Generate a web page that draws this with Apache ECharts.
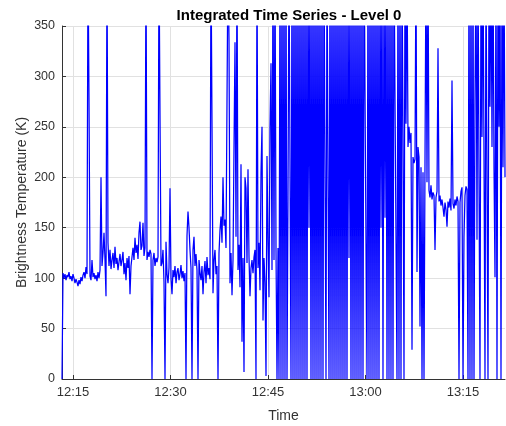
<!DOCTYPE html>
<html><head><meta charset="utf-8">
<script src="https://cdn.jsdelivr.net/npm/echarts@6/dist/echarts.min.js"></script>
<style>html,body{margin:0;padding:0;background:#fff}#c{width:506px;height:426px}</style>
</head><body><div id="c"></div>
<script>
const chartTitle = 'Integrated Time Series - Level 0';
const xName = 'Time';
const yName = 'Brightness Temperature (K)';
const xTickTimes = ['12:15', '12:30', '12:45', '13:00', '13:15'];
const yTicks = [0, 50, 100, 150, 200, 250, 300, 350];
const sampleStart = '12:13:18.6';
const sampleStepSec = 9.231;
const brightness = [
0,105,100,104,98,103,101,106,99,102,
97,104,100,95,99,96,92,98,94,101,
97,103,106,100,111,104,420,277,102,98,
118,101,105,99,103,97,106,100,108,200,
112,125,145,118,82,420,135,112,128,109,
118,125,110,131,114,120,108,116,124,112,
118,126,104,115,98,120,110,122,84,112,
121,130,118,140,125,133,119,145,156,128,
132,155,122,130,420,118,126,121,128,124,
0,118,125,112,120,116,121,420,261,112,
115,128,96,0,136,104,95,110,189,100,
84,108,101,112,95,106,110,98,104,113,
100,107,97,105,0,142,166,150,128,110,
0,128,141,112,124,108,0,118,105,98,
112,84,106,117,95,121,103,110,99,420,
420,85,118,128,104,112,0,125,148,161,
135,200,152,158,130,275,420,336,95,125,
83,118,229,334,141,420,108,133,91,213,
37,120,7,200,189,115,208,121,82,110,
118,105,121,128,0,420,110,135,88,205,
250,58,120,96,3,221,138,81,250,313,
108,420,118,420,128,0,130,0,420,0,
420,0,420,0,420,0,180,420,420,0,
420,0,420,0,420,0,420,0,420,0,
420,0,420,0,420,0,420,150,420,0,
420,0,420,0,420,0,420,0,420,0,
420,0,420,420,0,420,420,0,420,0,
420,0,420,0,420,0,420,0,420,0,
420,0,420,0,420,0,420,120,420,0,
420,0,420,0,420,0,420,0,420,0,
420,0,420,420,420,0,420,0,420,0,
420,0,420,0,420,0,420,0,420,150,
420,0,420,160,420,0,420,0,420,0,
420,0,420,420,420,0,420,0,420,0,
420,242,0,420,253,420,230,250,234,244,
29,220,214,218,420,106,230,220,52,210,
0,205,0,215,420,195,420,187,180,192,
178,185,182,128,180,186,328,176,182,172,
178,170,161,175,168,151,176,170,179,167,
296,174,169,178,172,181,176,0,175,186,
190,0,141,182,191,188,0,420,0,420,
0,420,0,277,420,138,420,200,0,420,
240,420,220,0,420,197,0,420,270,420,
230,420,210,101,420,0,420,250,420,0,
420,210,420,200
];

function toMin(s) {
  const p = s.split(':').map(Number);
  return (p[0] - 12) * 60 + p[1] + (p[2] || 0) / 60;
}
function fmt(v) {
  const total = Math.round(v);
  const h = 12 + Math.floor(total / 60);
  const m = total % 60;
  return h + ':' + (m < 10 ? '0' : '') + m;
}
const t0 = toMin(sampleStart);
const stepMin = sampleStepSec / 60;
const seriesData = brightness.map((v, i) => [t0 + i * stepMin, v]);
const tMax = t0 + (brightness.length - 1) * stepMin;
const tickVals = xTickTimes.map(toMin);

const FONT = "'Liberation Sans', Arial, Helvetica, sans-serif";
const AX = '#333333';
const chart = echarts.init(document.getElementById('c'), null, {renderer: 'canvas'});
chart.setOption({
  animation: false,
  backgroundColor: '#fff',
  title: {
    text: chartTitle, left: 284, top: 3, textAlign: 'center',
    textStyle: {fontFamily: FONT, fontSize: 15, fontWeight: 'bold', color: '#000'}
  },
  grid: {left: 62, top: 26, width: 443, height: 353, containLabel: false, outerBoundsMode: 'none'},
  xAxis: {
    type: 'value', min: t0, max: tMax,
    name: xName, nameLocation: 'middle', nameGap: 30, nameMoveOverlap: false,
    nameTextStyle: {fontFamily: FONT, fontSize: 14, color: AX},
    axisLine: {show: true, onZero: false, lineStyle: {color: AX, width: 1}},
    axisTick: {show: true, inside: true, length: 4, customValues: tickVals, lineStyle: {color: AX}},
    axisLabel: {customValues: tickVals, formatter: fmt, margin: 7, fontFamily: FONT, fontSize: 13, color: AX},
    splitLine: {show: true, lineStyle: {color: '#e1e1e1', width: 1}}
  },
  yAxis: {
    type: 'value', min: yTicks[0], max: yTicks[yTicks.length - 1], interval: 50,
    name: yName, nameLocation: 'middle', nameGap: 33, nameMoveOverlap: false,
    nameTextStyle: {fontFamily: FONT, fontSize: 14, color: AX},
    axisLine: {show: true, lineStyle: {color: AX, width: 1}},
    axisTick: {show: true, inside: true, length: 4, lineStyle: {color: AX}},
    axisLabel: {margin: 7, fontFamily: FONT, fontSize: 12.5, color: AX},
    splitLine: {show: true, lineStyle: {color: '#e1e1e1', width: 1}}
  },
  series: [{
    type: 'line', data: seriesData, symbol: 'none', showSymbol: false,
    clip: true, sampling: null,
    lineStyle: {color: '#0000ff', width: 1.25}
  }]
});
</script>
</body></html>
